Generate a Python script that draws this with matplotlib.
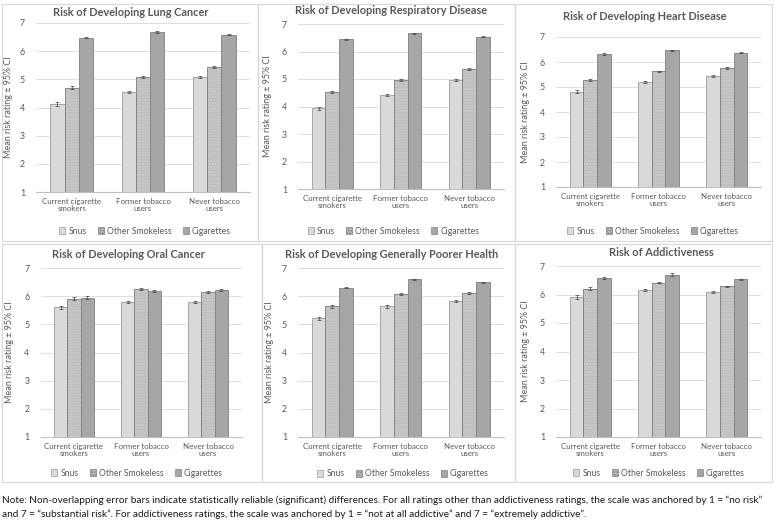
import matplotlib
matplotlib.use("Agg")
import matplotlib.pyplot as plt
from matplotlib.patches import Rectangle, Patch
import numpy as np

plt.rcParams['font.family'] = ['Lato', 'DejaVu Sans']

# ---------------- data ----------------
groups = ["Current cigarette\nsmokers", "Former tobacco\nusers", "Never tobacco\nusers"]
products = ["Snus", "Other Smokeless", "Cigarettes"]
yticks = [1, 2, 3, 4, 5, 6, 7]

lung_title = "Risk of Developing Lung Cancer"
lung_snus = [4.13, 4.55, 5.07]
lung_other = [4.70, 5.07, 5.44]
lung_cig = [6.47, 6.68, 6.58]
lung_err = [[0.06, 0.04, 0.04], [0.05, 0.04, 0.03], [0.02, 0.02, 0.02]]

resp_title = "Risk of Developing Respiratory Disease"
resp_snus = [3.94, 4.42, 4.97]
resp_other = [4.53, 4.97, 5.36]
resp_cig = [6.45, 6.67, 6.53]
resp_err = [[0.06, 0.04, 0.04], [0.05, 0.04, 0.04], [0.02, 0.02, 0.02]]

heart_title = "Risk of Developing Heart Disease"
heart_snus = [4.82, 5.20, 5.44]
heart_other = [5.28, 5.63, 5.77]
heart_cig = [6.32, 6.47, 6.37]
heart_err = [[0.06, 0.04, 0.04], [0.05, 0.03, 0.03], [0.03, 0.02, 0.02]]

oral_title = "Risk of Developing Oral Cancer"
oral_snus = [5.61, 5.78, 5.80]
oral_other = [5.91, 6.26, 6.14]
oral_cig = [5.95, 6.19, 6.23]
oral_err = [[0.05, 0.04, 0.03], [0.05, 0.03, 0.03], [0.05, 0.03, 0.03]]

health_title = "Risk of Developing Generally Poorer Health"
health_snus = [5.21, 5.64, 5.82]
health_other = [5.64, 6.08, 6.11]
health_cig = [6.30, 6.60, 6.49]
health_err = [[0.06, 0.05, 0.03], [0.05, 0.03, 0.03], [0.02, 0.02, 0.02]]

addict_title = "Risk of Addictiveness"
addict_snus = [5.91, 6.16, 6.08]
addict_other = [6.21, 6.42, 6.29]
addict_cig = [6.57, 6.70, 6.53]
addict_err = [[0.06, 0.04, 0.03], [0.05, 0.03, 0.02], [0.03, 0.04, 0.03]]

note = ("Note: Non-overlapping error bars indicate statistically reliable (significant) differences. "
        "For all ratings other than addictiveness ratings, the scale was anchored by 1 = \u201cno risk\u201d\n"
        "and 7 = \u201csubstantial risk\u201d. For addictiveness ratings, the scale was anchored by "
        "1 = \u201cnot at all addictive\u201d and 7 = \u201cextremely addictive\u201d.")

ylabel = "Mean risk rating \u00b1 95% CI"

# ---------------- style ----------------
W, H = 774, 521
TXT = '#595959'
colors = ['#d9d9d9', '#bdbdbd', '#a6a6a6']
edges = ['#9a9a9a', '#7f7f7f', '#7f7f7f']

fig = plt.figure(figsize=(W / 100, H / 100), dpi=100)

def fx(x):
    return x / W

def fy(y):
    return 1 - y / H

# panel borders (pixel coords)
borders = [(2, 4, 258, 241), (258, 4, 515, 241), (515, 4, 772, 241),
           (2, 244, 262, 482), (262, 244, 515, 482), (515, 244, 772, 482)]
for (x0, y0, x1, y1) in borders:
    fig.add_artist(Rectangle((fx(x0), fy(y1)), fx(x1) - fx(x0), fy(y0) - fy(y1),
                             transform=fig.transFigure, fill=False,
                             edgecolor='#d9d9d9', linewidth=0.9))

panels = [
    (lung_title, lung_snus, lung_other, lung_cig, lung_err,
     (36, 23, 250, 192), (131, 12), (145, 231), 9),
    (resp_title, resp_snus, resp_other, resp_cig, resp_err,
     (298, 24, 503.5, 189), (391.5, 10), (393.5, 231), 268),
    (heart_title, heart_snus, heart_other, heart_cig, heart_err,
     (556, 37, 761, 187), (644.5, 16), (653, 231), 526),
    (oral_title, oral_snus, oral_other, oral_cig, oral_err,
     (40.5, 268, 241.5, 437), (128.5, 254), (137, 473), 10),
    (health_title, health_snus, health_other, health_cig, health_err,
     (298, 268, 503.5, 437), (391.5, 254), (403, 474), 270),
    (addict_title, addict_snus, addict_other, addict_cig, addict_err,
     (556, 266, 761, 437), (661, 253), (659, 473), 525),
]

bw = 0.2
offs = [-bw, 0, bw]
x = np.arange(len(groups))

for (title, s1, s2, s3, err, box, tpos, lpos, ylx) in panels:
    x0, y0, x1, y1 = box
    ax = fig.add_axes([fx(x0), fy(y1), fx(x1) - fx(x0), fy(y0) - fy(y1)])
    ax.set_xlim(-0.5, 2.5)
    ax.set_ylim(1, 7)
    ax.set_yticks(yticks)
    ax.set_axisbelow(True)
    ax.grid(axis='y', color='#d9d9d9', linewidth=0.6)
    for sp in ['top', 'right', 'left']:
        ax.spines[sp].set_visible(False)
    ax.spines['bottom'].set_color('#bfbfbf')
    ax.spines['bottom'].set_linewidth(0.8)
    ax.tick_params(length=0, colors=TXT)
    ax.tick_params(axis='y', pad=8, labelsize=6.3)
    ax.tick_params(axis='x', pad=4, labelsize=5.7)
    ax.set_xticks(x)
    ax.set_xticklabels(groups, linespacing=1.0)
    series = [s1, s2, s3]
    for i in range(3):
        vals = np.array(series[i])
        if i == 1:
            ax.bar(x + offs[i], vals - 1, bw, bottom=1, color=colors[i],
                   edgecolor='#cfcfcf', hatch='......', linewidth=0, zorder=2)
            ax.bar(x + offs[i], vals - 1, bw, bottom=1, fill=False,
                   edgecolor=edges[i], linewidth=0.6, zorder=3)
        else:
            ax.bar(x + offs[i], vals - 1, bw, bottom=1, color=colors[i],
                   edgecolor=edges[i], linewidth=0.6, zorder=3)
        ax.errorbar(x + offs[i], vals, yerr=err[i], fmt='none', ecolor='#404040',
                    elinewidth=0.5, capsize=1.6, capthick=0.5, zorder=4)
    fig.text(fx(tpos[0]), fy(tpos[1]), title, ha='center', va='center',
             fontsize=7.9, fontweight='bold', color=TXT)
    fig.text(fx(ylx), fy((y0 + y1) / 2), ylabel, rotation=90, ha='center',
             va='center', fontsize=6.5, color=TXT)
    handles = []
    for i in range(3):
        if i == 1:
            handles.append(Patch(facecolor=colors[i], edgecolor=edges[i],
                                 hatch='......', linewidth=0.5))
        else:
            handles.append(Patch(facecolor=colors[i], edgecolor=edges[i], linewidth=0.5))
    leg = fig.legend(handles, products, loc='center', ncol=3,
                     bbox_to_anchor=(fx(lpos[0]), fy(lpos[1])),
                     frameon=False, fontsize=6.2, handlelength=0.7, handleheight=0.7,
                     handletextpad=0.35, columnspacing=1.3, borderpad=0)
    for t in leg.get_texts():
        t.set_color(TXT)

note_txt = fig.text(fx(2), fy(495), note, ha='left', va='top', fontsize=7.6,
                    color='#1a1a1a', linespacing=1.65)
renderer = fig.canvas.get_renderer()
fs = 7.6
while fs > 5:
    note_txt.set_fontsize(fs)
    bb = note_txt.get_window_extent(renderer=renderer)
    if bb.x1 <= W - 4:
        break
    fs -= 0.05

fig.savefig('out.png', dpi=100)
